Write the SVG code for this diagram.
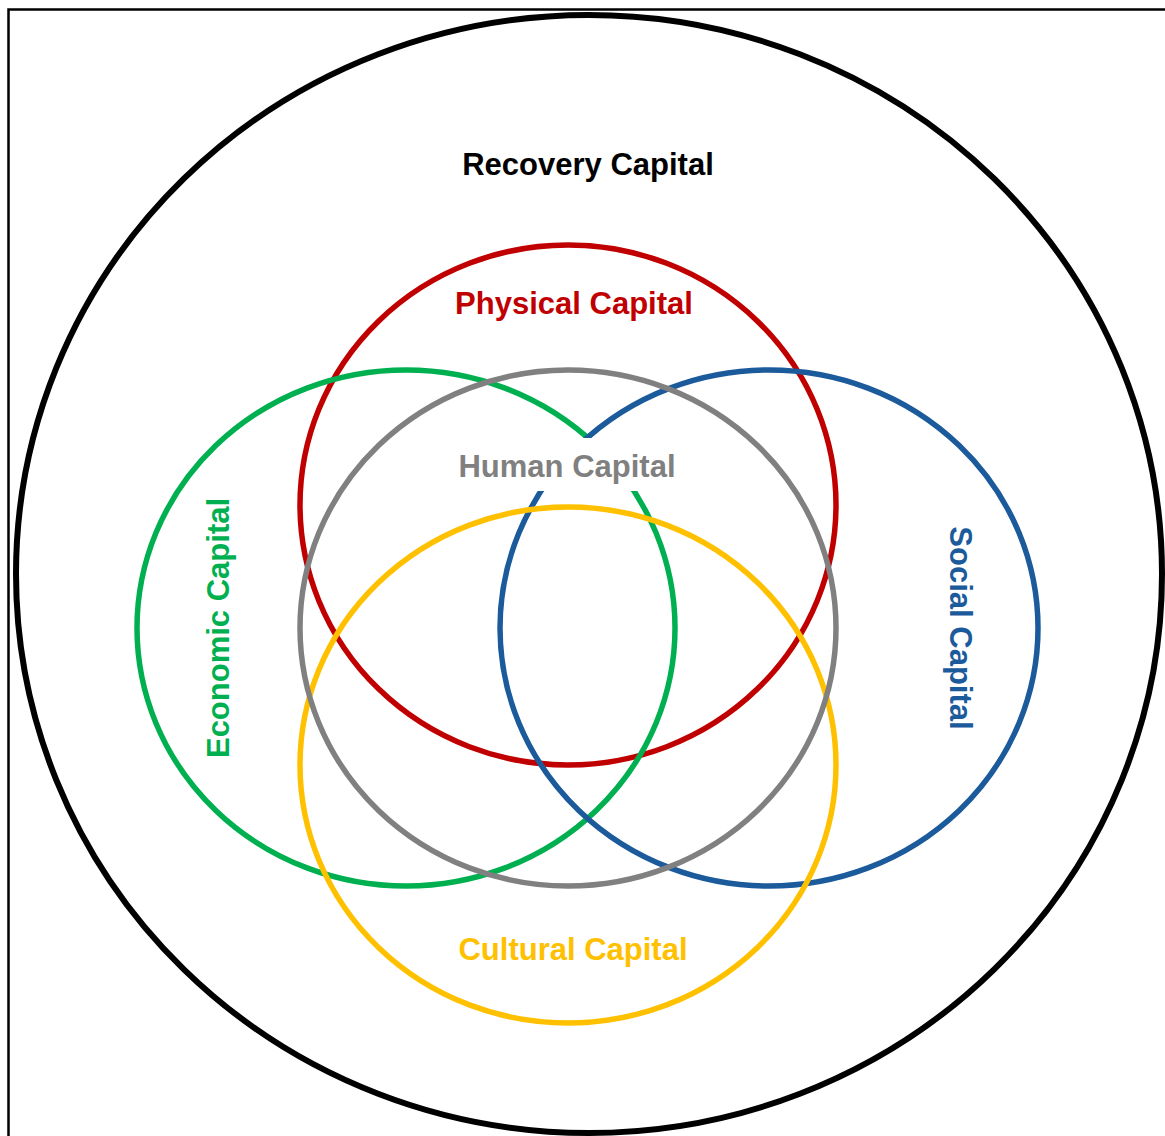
<svg xmlns="http://www.w3.org/2000/svg" width="1165" height="1136" viewBox="0 0 1165 1136">
<style>
.ring{fill:none;stroke-width:5.5}
.lbl{font-family:"Liberation Sans",Arial,sans-serif;font-weight:bold;font-size:31px;text-anchor:middle}
</style>
<rect x="0" y="0" width="1165" height="1136" fill="#ffffff"/>
<rect x="8.5" y="9.5" width="1200" height="1200" fill="none" stroke="#000" stroke-width="2.5"/>
<g id="recovery">
<ellipse cx="589" cy="574" rx="573" ry="559" fill="none" stroke="#000" stroke-width="6"/>
<text class="lbl" x="588" y="175" fill="#000">Recovery Capital</text>
</g>
<g id="physical">
<ellipse class="ring" cx="568" cy="505" rx="268" ry="260" stroke="#C00000"/>
</g>
<g id="economic">
<ellipse class="ring" cx="406" cy="628" rx="269" ry="258" stroke="#00B050"/>
</g>
<g id="social">
<ellipse class="ring" cx="769" cy="628" rx="269" ry="258" stroke="#1B5A9B"/>
</g>
<g id="cultural">
<ellipse class="ring" cx="568" cy="765" rx="268" ry="258" stroke="#FFC000"/>
</g>
<g id="human">
<ellipse class="ring" cx="568" cy="628" rx="268" ry="258" stroke="#808080"/>
</g>
<g id="labels">
<text class="lbl" x="574" y="314" fill="#C00000">Physical Capital</text>
<rect x="450" y="438" width="235" height="53" fill="#ffffff"/>
<text class="lbl" x="567" y="477" fill="#808080">Human Capital</text>
<text class="lbl" x="573" y="960" fill="#FFC000">Cultural Capital</text>
<text class="lbl" transform="translate(229,628) rotate(-90)" x="0" y="0" fill="#00B050">Economic Capital</text>
<text class="lbl" transform="translate(950,628) rotate(90)" x="0" y="0" fill="#1B5A9B">Social Capital</text>
</g>
</svg>
